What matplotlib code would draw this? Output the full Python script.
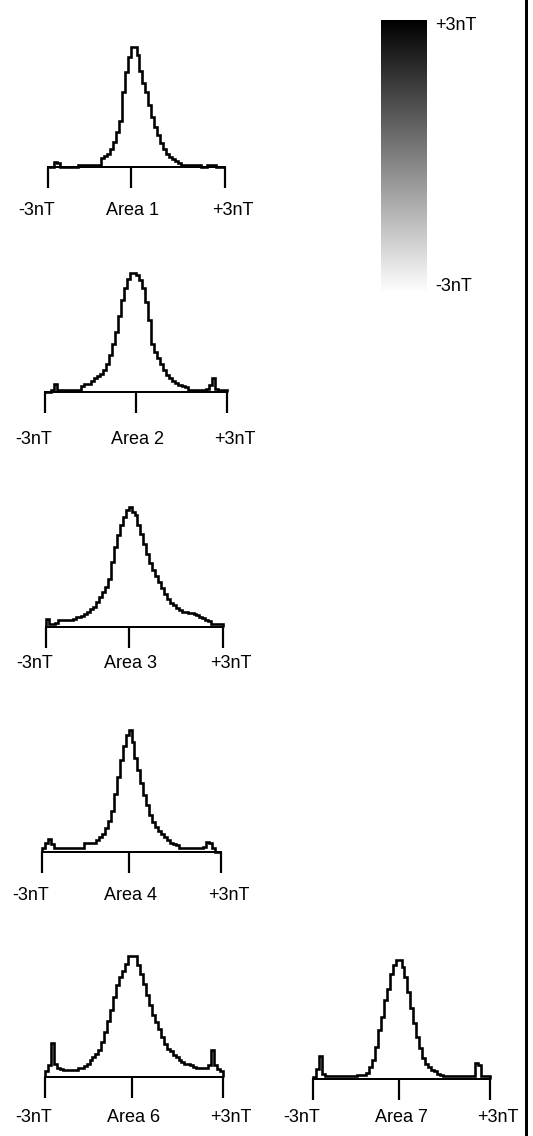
import matplotlib
matplotlib.use("Agg")
import matplotlib.pyplot as plt
import numpy as np
from matplotlib.colors import Normalize
from matplotlib.cm import ScalarMappable

plt.rcParams['font.family'] = ['Liberation Sans', 'DejaVu Sans']

# histogram counts, 60 bins from -3nT to +3nT
areas = ["Area 1", "Area 2", "Area 3", "Area 4", "Area 6", "Area 7"]
area1 = [0, 0, 5, 4, 0, 0, 0, 0, 0, 0,
         2, 2, 2, 2, 2, 2, 2, 2, 9, 11,
         13, 18, 25, 35, 46, 75, 95, 110, 120, 120,
         112, 96, 84, 75, 62, 50, 40, 32, 24, 18,
         13, 10, 8, 6, 4, 2, 2, 2, 2, 2,
         2, 2, 0, 0, 2, 2, 2, 0, 0, 0]
area2 = [0, 0, 2, 8, 2, 2, 2, 2, 2, 2,
         2, 2, 6, 8, 8, 11, 14, 16, 18, 22,
         28, 37, 48, 60, 76, 92, 104, 113, 119, 119,
         117, 112, 104, 90, 72, 48, 40, 34, 28, 22,
         17, 14, 11, 9, 7, 6, 5, 2, 2, 2,
         2, 2, 2, 3, 7, 14, 3, 2, 2, 2]
area3 = [8, 3, 3, 4, 7, 7, 7, 7, 7, 8,
         10, 10, 11, 13, 15, 18, 20, 25, 30, 35,
         40, 48, 65, 80, 92, 102, 110, 117, 120, 115,
         112, 102, 93, 83, 73, 64, 57, 51, 45, 39,
         33, 28, 24, 22, 19, 17, 15, 15, 14, 14,
         13, 12, 10, 9, 7, 6, 3, 3, 3, 3]
area4 = [4, 9, 13, 8, 4, 4, 4, 4, 4, 4,
         4, 4, 4, 4, 9, 9, 9, 9, 12, 15,
         18, 24, 31, 41, 58, 75, 92, 106, 117, 122,
         110, 94, 82, 69, 57, 47, 37, 30, 25, 21,
         18, 15, 12, 9, 8, 7, 4, 4, 4, 4,
         4, 4, 4, 4, 5, 10, 9, 4, 0, 0]
area6 = [6, 12, 34, 13, 9, 8, 7, 7, 7, 7,
         7, 9, 9, 11, 13, 17, 20, 23, 27, 35,
         45, 56, 67, 80, 92, 100, 106, 113, 121, 121,
         121, 112, 103, 93, 82, 72, 62, 55, 48, 40,
         33, 28, 26, 22, 20, 17, 15, 13, 13, 12,
         10, 9, 9, 9, 9, 12, 27, 12, 8, 6]
area7 = [2, 10, 23, 5, 3, 3, 3, 3, 3, 3,
         3, 3, 3, 3, 3, 4, 4, 4, 6, 12,
         19, 32, 49, 62, 79, 90, 105, 114, 119, 119,
         112, 102, 87, 71, 56, 42, 31, 21, 15, 12,
         9, 8, 5, 4, 3, 3, 3, 3, 3, 3,
         3, 3, 3, 3, 3, 16, 14, 3, 3, 3]
counts = [area1, area2, area3, area4, area6, area7]
zero_pos = [-0.19, -0.01, -0.2, -0.1, -0.07, -0.08]
range_labels = ["-3nT", "+3nT"]
scale_labels = ["-3nT", "+3nT"]

W, H = 533, 1136
PT = 0.72  # points per pixel at dpi 100
# panel layout in pixels: left, right, baseline y, label offset below baseline
layout = [(48, 225, 166.5, 44),
          (45, 227, 392, 47),
          (46, 223, 627, 36),
          (42, 221, 852, 43),
          (45, 223, 1077, 41),
          (313, 490, 1079, 39)]
PANEL_H = 128

fig = plt.figure(figsize=(W / 100, H / 100), dpi=100)
edges = np.linspace(-3, 3, len(area1) + 1)

for name, vals, z, (left, right, base, loff) in zip(areas, counts, zero_pos, layout):
    ax = fig.add_axes([left / W, (H - base) / H, (right - left) / W, PANEL_H / H])
    ax.patch.set_alpha(0)
    ax.stairs(vals, edges, color='black', linewidth=2.6 * PT, baseline=0, clip_on=False)
    ax.set_xlim(-3, 3)
    ax.set_ylim(0, PANEL_H)
    for s in ['top', 'left', 'right']:
        ax.spines[s].set_visible(False)
    ax.spines['bottom'].set_linewidth(2 * PT)
    ax.set_yticks([])
    ax.set_xticks([-3, z, 3])
    ax.tick_params(axis='x', direction='out', length=21 * PT, width=2.2 * PT,
                   labelbottom=False)
    texts = [range_labels[0], name, range_labels[1]]
    dxs = [-11, 2, 8]
    for xv, t, dx in zip([-3, z, 3], texts, dxs):
        ax.annotate(t, xy=(xv, 0), xycoords=('data', 'axes fraction'),
                    xytext=(dx * PT, -loff * PT), textcoords='offset points',
                    ha='center', va='center', fontsize=13, annotation_clip=False)

# grey scale bar
cax = fig.add_axes([381 / W, (H - 293) / H, 46 / W, 273 / H])
sm = ScalarMappable(norm=Normalize(-3.1, 3), cmap='gray_r')
cb = fig.colorbar(sm, cax=cax)
cb.outline.set_visible(False)
cb.set_ticks([-2.9, 2.93])
cb.set_ticklabels(scale_labels)
cax.tick_params(length=0, pad=8 * PT, labelsize=13)

# frame line on the right
fig.add_artist(plt.Line2D([526 / W, 526 / W], [0, 1], transform=fig.transFigure,
                          color='black', linewidth=3 * PT))

fig.savefig('out.png', dpi=100)
